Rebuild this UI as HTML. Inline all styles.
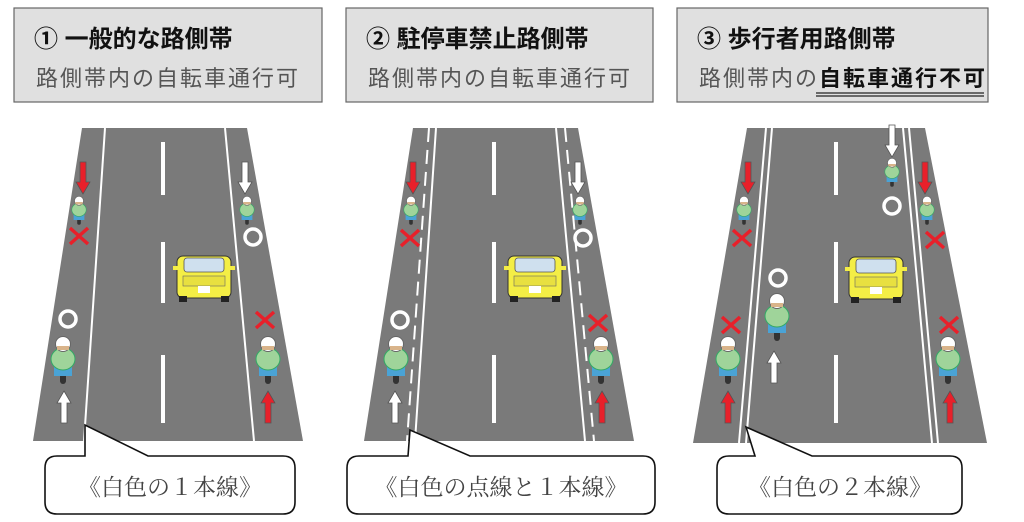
<!DOCTYPE html>
<html><head><meta charset="utf-8"><style>
html,body{margin:0;padding:0;background:#fff;}
svg{display:block;}
text{font-family:"Liberation Sans","Noto Sans CJK JP",sans-serif;}
</style></head><body>
<svg width="1024" height="522" viewBox="0 0 1024 522" xmlns="http://www.w3.org/2000/svg">
<defs>
<g id="bk">
 <rect x="-3" y="28" width="6" height="20" rx="3" fill="#333"/>
 <rect x="-9" y="26" width="18" height="14" fill="#4aa3d6"/>
 <ellipse cx="0" cy="23" rx="12" ry="11" fill="#9fd49a" stroke="#3a6" stroke-width="1"/>
 <circle cx="0" cy="8" r="7.5" fill="#fff" stroke="#666" stroke-width="1"/>
 <rect x="-6" y="10" width="12" height="4" fill="#d9b48a"/>
</g>
<g id="xm"><path d="M-9,-8 L9,8 M9,-8 L-9,8" stroke="#e8202a" stroke-width="3.5"/></g>
<g id="ci"><circle r="8" fill="none" stroke="#fff" stroke-width="3.5"/></g>
<g id="au"><path d="M0,-16 L7,-4 L3,-4 L3,16 L-3,16 L-3,-4 L-7,-4 Z" stroke="#555" stroke-width="0.8"/></g>
<g id="car">
 <rect x="0" y="4" width="54" height="42" rx="6" fill="#f4ee45" stroke="#333" stroke-width="1"/>
 <rect x="7" y="6" width="40" height="14" rx="3" fill="#cfe0ee" stroke="#555" stroke-width="0.8"/>
 <rect x="-4" y="14" width="6" height="4" fill="#f4ee45"/><rect x="52" y="14" width="6" height="4" fill="#f4ee45"/>
 <rect x="6" y="24" width="42" height="10" fill="#e8e040" stroke="#666" stroke-width="0.6"/>
 <rect x="21" y="34" width="12" height="7" fill="#fff"/>
 <rect x="2" y="44" width="8" height="6" fill="#222"/><rect x="44" y="44" width="8" height="6" fill="#222"/>
</g>
</defs>

<g stroke="#666" stroke-width="1.2" fill="#e0e0e0">
 <rect x="14" y="8" width="308" height="94"/>
 <rect x="346" y="8" width="307" height="94"/>
 <rect x="677" y="8" width="311" height="94"/>
</g>
<g font-size="24" font-weight="bold" fill="#111">
 <text x="34" y="47">① 一般的な路側帯</text>
 <text x="366" y="47">② 駐停車禁止路側帯</text>
 <text x="697" y="47">③ 歩行者用路側帯</text>
</g>
<g font-size="22" fill="#555" letter-spacing="2">
 <text x="36" y="86">路側帯内の自転車通行可</text>
 <text x="368" y="86">路側帯内の自転車通行可</text>
 <text x="699" y="86">路側帯内の<tspan font-weight="bold" fill="#111">自転車通行不可</tspan></text>
</g>
<path d="M816,93 H984 M816,96 H984" stroke="#222" stroke-width="1.3"/>

<!-- Panel 1 -->
<polygon points="82,128 247,128 303,441 33,441" fill="#7a7a7a"/>
<path d="M105,128 L84,441 M225,128 L254,441" stroke="#fff" stroke-width="2"/>
<path d="M163,142 V195 M163,242 V303 M163,355 V423" stroke="#fff" stroke-width="4"/>
<use href="#car" x="177" y="252"/>
<use href="#au" transform="translate(83,178) rotate(180)" fill="#e8202a"/>
<use href="#bk" transform="translate(79,196) scale(0.6)"/>
<use href="#xm" x="79" y="236"/>
<use href="#ci" x="68" y="319"/>
<use href="#bk" x="63" y="336"/>
<use href="#au" x="64" y="407" fill="#fff"/>
<use href="#au" transform="translate(245,178) rotate(180)" fill="#fff"/>
<use href="#bk" transform="translate(247,196) scale(0.6)"/>
<use href="#ci" x="253" y="237"/>
<use href="#xm" x="265" y="320"/>
<use href="#bk" x="268" y="336"/>
<use href="#au" x="268" y="407" fill="#e8202a"/>

<!-- Panel 2 -->
<polygon points="413,128 578,128 634,441 364,441" fill="#7a7a7a"/>
<path d="M436,128 L415,441 M556,128 L585,441" stroke="#fff" stroke-width="2"/>
<path d="M429,128 L407,441 M565,128 L594,441" stroke="#fff" stroke-width="2" stroke-dasharray="14,8"/>
<path d="M494,142 V195 M494,242 V303 M494,355 V423" stroke="#fff" stroke-width="4"/>
<use href="#car" x="508" y="252"/>
<use href="#au" transform="translate(413,178) rotate(180)" fill="#e8202a"/>
<use href="#bk" transform="translate(411,196) scale(0.6)"/>
<use href="#xm" x="410" y="238"/>
<use href="#ci" x="400" y="320"/>
<use href="#bk" x="396" y="336"/>
<use href="#au" x="395" y="407" fill="#fff"/>
<use href="#au" transform="translate(578,178) rotate(180)" fill="#fff"/>
<use href="#bk" transform="translate(580,196) scale(0.6)"/>
<use href="#ci" x="583" y="238"/>
<use href="#xm" x="598" y="323"/>
<use href="#bk" x="601" y="336"/>
<use href="#au" x="602" y="407" fill="#e8202a"/>

<!-- Panel 3 -->
<polygon points="747,128 925,128 987,443 693,443" fill="#7a7a7a"/>
<path d="M766,128 L739,443 M772,128 L746,443 M903,128 L932,443 M909,128 L938,443" stroke="#fff" stroke-width="2"/>
<path d="M836,142 V195 M836,242 V303 M836,355 V423" stroke="#fff" stroke-width="4"/>
<use href="#car" x="849" y="253"/>
<use href="#au" transform="translate(748,178) rotate(180)" fill="#e8202a"/>
<use href="#bk" transform="translate(744,196) scale(0.6)"/>
<use href="#xm" x="742" y="238"/>
<use href="#xm" x="731" y="325"/>
<use href="#bk" x="728" y="336"/>
<use href="#au" x="728" y="407" fill="#e8202a"/>
<use href="#au" transform="translate(892,141) rotate(180)" fill="#fff"/>
<use href="#bk" transform="translate(892,158) scale(0.6)"/>
<use href="#ci" x="892" y="206"/>
<use href="#ci" x="778" y="278"/>
<use href="#bk" x="777" y="293"/>
<use href="#au" x="774" y="367" fill="#fff"/>
<use href="#au" transform="translate(925,178) rotate(180)" fill="#e8202a"/>
<use href="#bk" transform="translate(927,196) scale(0.6)"/>
<use href="#xm" x="935" y="240"/>
<use href="#xm" x="949" y="325"/>
<use href="#bk" x="948" y="336"/>
<use href="#au" x="950" y="407" fill="#e8202a"/>

<g fill="#fff" stroke="#111" stroke-width="1.6">
 <path d="M57,456 H85 L85,425 L148,456 H283 Q295,456 295,468 V502 Q295,514 283,514 H57 Q45,514 45,502 V468 Q45,456 57,456 Z"/>
 <path d="M359,456 H408 L410,430 L470,456 H643 Q655,456 655,468 V502 Q655,514 643,514 H359 Q347,514 347,502 V468 Q347,456 359,456 Z"/>
 <path d="M729,456 H755 L746,427 L812,456 H950 Q962,456 962,468 V502 Q962,514 950,514 H729 Q717,514 717,502 V468 Q717,456 729,456 Z"/>
</g>
<g font-size="23" fill="#444" text-anchor="middle">
 <text x="170" y="495" style="font-family:'Liberation Serif','Noto Serif CJK SC',serif">《白色の１本線》</text>
 <text x="501" y="495" style="font-family:'Liberation Serif','Noto Serif CJK SC',serif">《白色の点線と１本線》</text>
 <text x="840" y="495" style="font-family:'Liberation Serif','Noto Serif CJK SC',serif">《白色の２本線》</text>
</g>
</svg>
</body></html>
